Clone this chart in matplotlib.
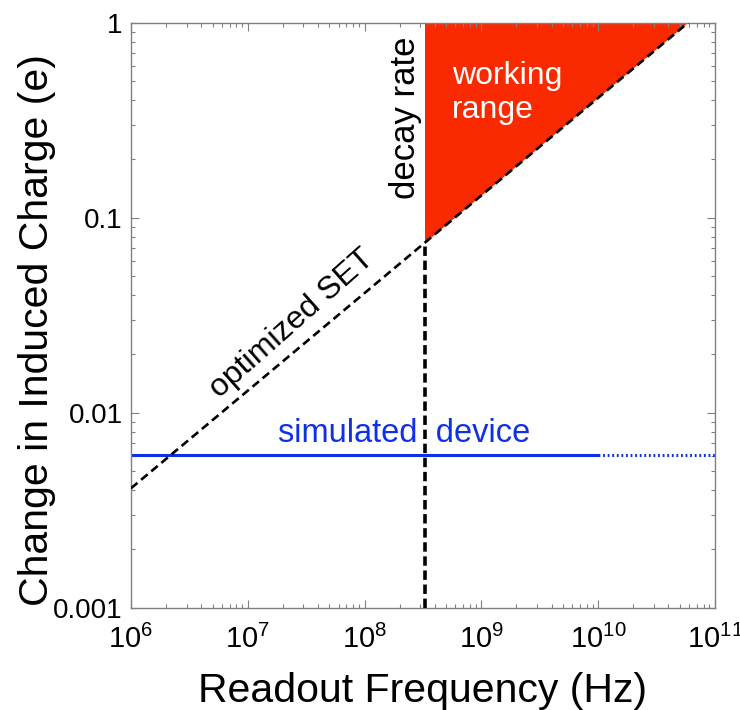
import numpy as np
import matplotlib
matplotlib.use('Agg')
import matplotlib.pyplot as plt
from matplotlib.ticker import LogLocator, FixedLocator, FixedFormatter

plt.rcParams['font.family'] = ['Liberation Sans', 'DejaVu Sans']
plt.rcParams['mathtext.fontset'] = 'custom'
plt.rcParams['mathtext.rm'] = 'Liberation Sans'

# optimized SET line: charge sensitivity vs readout frequency
set_freq = [1e6, 5.9e10]
set_charge = [0.0041, 1.0]

# decay-rate limit
decay_freq = 3.3e8

# simulated device (solid up to 1e10, dotted beyond)
sim_charge = 0.0061
sim_freq_solid = [1e6, 1e10]
sim_freq_dotted = [1e10, 1e11]

x_ticks = [1e6, 1e7, 1e8, 1e9, 1e10, 1e11]
x_labels = ['$10^{6}$', '$10^{7}$', '$10^{8}$', '$10^{9}$', '$10^{10}$', '$10^{11}$']
y_ticks = [0.001, 0.01, 0.1, 1]
y_labels = ['0.001', '0.01', '0.1', '1']


def set_line(f):
    # power law through the two end points of the SET line
    slope = np.log10(set_charge[1] / set_charge[0]) / np.log10(set_freq[1] / set_freq[0])
    return set_charge[0] * (f / set_freq[0]) ** slope


fig = plt.figure(figsize=(7.4, 7.1), dpi=100)
ax = fig.add_axes([0.177, 0.144, 0.789, 0.824])

q_decay = set_line(decay_freq)

# working range triangle
ax.fill([decay_freq, decay_freq, set_freq[1]], [q_decay, 1.0, 1.0],
        color='#fa2a00', lw=0, zorder=1)

ax.plot(set_freq, set_charge, color='black', ls='--', lw=1.9,
        dashes=(3.2, 1.8), zorder=3)
ax.plot([decay_freq, decay_freq], [1e-3, q_decay], color='black', ls='--',
        lw=2.6, dashes=(2.6, 1.3), zorder=3)

ax.plot(sim_freq_solid, [sim_charge, sim_charge], color='#1030e8', lw=2.2, zorder=2)
ax.plot(sim_freq_dotted, [sim_charge, sim_charge], color='#1030e8', lw=2.2,
        ls=':', dashes=(0.6, 0.9), zorder=2)

ax.set_xscale('log')
ax.set_yscale('log')
ax.set_xlim(1e6, 1e11)
ax.set_ylim(1e-3, 1)

ax.xaxis.set_major_locator(FixedLocator(x_ticks))
ax.xaxis.set_major_formatter(FixedFormatter(x_labels))
ax.yaxis.set_major_locator(FixedLocator(y_ticks))
ax.yaxis.set_major_formatter(FixedFormatter(y_labels))
ax.xaxis.set_minor_locator(LogLocator(base=10, subs=np.arange(2, 10)))
ax.yaxis.set_minor_locator(LogLocator(base=10, subs=np.arange(2, 10)))

ax.tick_params(which='both', direction='in', top=True, right=True, color='#808080')
ax.tick_params(which='major', length=6, width=0.8)
ax.tick_params(which='minor', length=3, width=0.8)
ax.tick_params(axis='x', labelsize=21, pad=12)
ax.tick_params(axis='y', labelsize=20, pad=6)
for s in ax.spines.values():
    s.set_color('#808080')
    s.set_linewidth(1.0)

ax.set_xlabel('Readout Frequency (Hz)', fontsize=29.5, labelpad=13)
ax.set_ylabel('Change in Induced Charge (e)', fontsize=29.5)
ax.yaxis.set_label_coords(-0.128, 0.475)

ax.text(2.26e8, 0.326, 'decay rate', rotation=90, fontsize=25,
        ha='center', va='center', color='black')
ax.text(5.6e8, 0.437, 'working\nrange', fontsize=23, ha='left', va='center',
        color='white', linespacing=1.15, zorder=4)
ax.text(2.4e7, 0.0285, 'optimized SET', rotation=41.5, fontsize=23,
        ha='center', va='center', color='black', rotation_mode='anchor')
ax.text(1.82e7, 0.0078, 'simulated  device', fontsize=23.5, ha='left', va='center',
        color='#1030e8')

fig.savefig('out.png', dpi=100)
